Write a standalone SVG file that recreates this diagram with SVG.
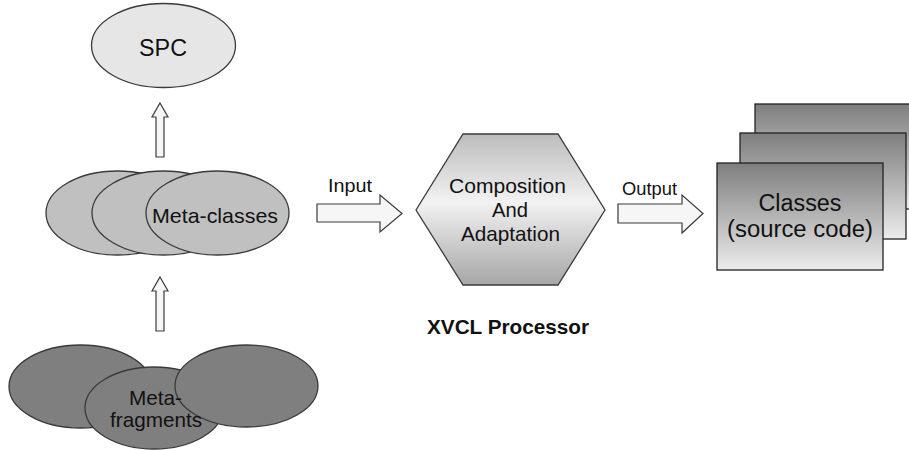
<svg xmlns="http://www.w3.org/2000/svg" width="909" height="450" viewBox="0 0 909 450">
  <defs>
    <linearGradient id="hexFill" x1="0" y1="0" x2="0" y2="1">
      <stop offset="0" stop-color="#bcbcbc"/>
      <stop offset="0.45" stop-color="#f2f2f2"/>
      <stop offset="1" stop-color="#a6a6a6"/>
    </linearGradient>
    <linearGradient id="boxFill" x1="0" y1="0" x2="0" y2="1">
      <stop offset="0" stop-color="#7e7e7e"/>
      <stop offset="1" stop-color="#ececec"/>
    </linearGradient>
    <style>
      .lbl { font-family: "Liberation Sans", Arial, sans-serif; fill: #111; text-anchor: middle; }
      .edge { stroke: #3a3a3a; stroke-width: 1.3; }
      .spc { fill: #e6e6e6; }
      .mc { fill: #c0c0c0; }
      .mf { fill: #7f7f7f; }
      .arrow { fill: #f6f6f6; stroke: #3a3a3a; stroke-width: 1.2; stroke-linejoin: miter; }
      .box { fill: url(#boxFill); stroke: #222; stroke-width: 1.3; }
    </style>
  </defs>

  <rect width="909" height="450" fill="#ffffff"/>

  <!-- SPC -->
  <g id="spc">
    <ellipse class="spc edge" cx="163.5" cy="45.5" rx="72" ry="42"/>
    <text class="lbl" x="163" y="56" font-size="23" textLength="48" lengthAdjust="spacingAndGlyphs">SPC</text>
  </g>

  <!-- Meta-classes stack -->
  <g id="meta-classes">
    <ellipse class="mc edge" cx="117.5" cy="213" rx="71.5" ry="42"/>
    <ellipse class="mc edge" cx="163.5" cy="213" rx="71.5" ry="42"/>
    <ellipse class="mc edge" cx="217.5" cy="213" rx="71.5" ry="42"/>
    <text class="lbl" x="215" y="223" font-size="21" textLength="126" lengthAdjust="spacingAndGlyphs">Meta-classes</text>
  </g>

  <!-- Meta-fragments cluster -->
  <g id="meta-fragments">
    <ellipse class="mf edge" cx="80.5" cy="386.5" rx="71.5" ry="41.5"/>
    <ellipse class="mf edge" cx="154" cy="408" rx="69" ry="41"/>
    <ellipse class="mf edge" cx="246.5" cy="386" rx="71.5" ry="41"/>
    <text class="lbl" x="155.5" y="405" font-size="21" textLength="53" lengthAdjust="spacingAndGlyphs">Meta-</text>
    <text class="lbl" x="156" y="427" font-size="21" textLength="92" lengthAdjust="spacingAndGlyphs">fragments</text>
  </g>

  <!-- XVCL processor -->
  <g id="xvcl-processor">
    <polygon fill="url(#hexFill)" stroke="#3a3a3a" stroke-width="1.3" points="416,210 463,134 558,134 605,210 558,285 463,285"/>
    <text class="lbl" x="507.5" y="193" font-size="21" textLength="117" lengthAdjust="spacingAndGlyphs">Composition</text>
    <text class="lbl" x="510" y="217" font-size="21" textLength="36" lengthAdjust="spacingAndGlyphs">And</text>
    <text class="lbl" x="510.5" y="241" font-size="21" textLength="99" lengthAdjust="spacingAndGlyphs">Adaptation</text>
    <text class="lbl" x="508" y="334" font-size="20.5" font-weight="bold" textLength="162" lengthAdjust="spacingAndGlyphs">XVCL Processor</text>
  </g>

  <!-- Classes (stacked pages) -->
  <g id="classes">
    <rect class="box" x="755" y="104" width="170" height="105"/>
    <rect class="box" x="740" y="133" width="166" height="106"/>
    <rect class="box" x="717" y="163" width="166" height="107"/>
    <text class="lbl" x="800" y="211" font-size="23.5" textLength="83" lengthAdjust="spacingAndGlyphs">Classes</text>
    <text class="lbl" x="800" y="237" font-size="23.5" textLength="146" lengthAdjust="spacingAndGlyphs">(source code)</text>
  </g>

  <!-- Connectors -->
  <g id="connectors">
    <polygon class="arrow" points="160,103 168,117 164,117 164,157 156,157 156,117 152,117"/>
    <polygon class="arrow" points="160,277 168,291 164,291 164,331 156,331 156,291 152,291"/>
    <polygon class="arrow" points="317,204 380,204 380,195 402,213.5 380,232 380,222 317,222"/>
    <polygon class="arrow" points="618,204 682,204 682,195 703,213.5 682,233 682,223 618,223"/>
    <text class="lbl" x="350" y="192" font-size="19" textLength="44" lengthAdjust="spacingAndGlyphs">Input</text>
    <text class="lbl" x="649.5" y="195" font-size="19" textLength="55" lengthAdjust="spacingAndGlyphs">Output</text>
  </g>
</svg>
